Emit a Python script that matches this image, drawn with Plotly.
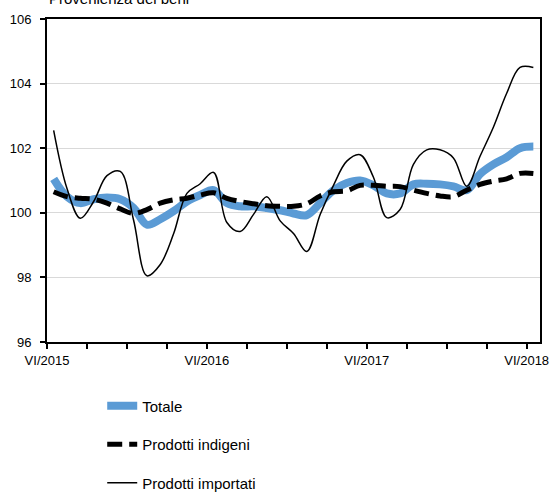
import plotly.graph_objects as go

# Monthly data, VI/2015 .. VI/2018 (37 months)
months = list(range(37))
totale = [101.05, 100.5, 100.3, 100.42, 100.47, 100.42, 100.15, 99.63, 99.8, 100.05,
          100.35, 100.55, 100.7, 100.3, 100.2, 100.2, 100.15, 100.08, 99.98, 99.93,
          100.3, 100.7, 100.92, 101.0, 100.85, 100.6, 100.6, 100.88, 100.9, 100.88,
          100.82, 100.7, 101.2, 101.5, 101.72, 102.0, 102.05]
indigeni = [100.65, 100.5, 100.45, 100.42, 100.3, 100.12, 99.98, 100.1, 100.3, 100.4,
            100.45, 100.55, 100.62, 100.45, 100.35, 100.28, 100.22, 100.2, 100.2, 100.28,
            100.52, 100.65, 100.68, 100.85, 100.85, 100.82, 100.81, 100.7, 100.6, 100.52,
            100.5, 100.7, 100.88, 100.98, 101.05, 101.22, 101.22]
importati = [102.55, 100.75, 99.83, 100.35, 101.15, 101.28, 99.77, 98.05, 98.4, 99.35,
             100.6, 100.9, 101.25, 99.7, 99.42, 99.95, 100.5, 99.75, 99.36, 98.8,
             99.95, 100.85, 101.6, 101.8, 101.1, 99.85, 100.1, 101.5, 101.95, 101.95,
             101.7, 100.82, 101.75, 102.65, 103.7, 104.5, 104.5]

series_names = ["Totale", "Prodotti indigeni", "Prodotti importati"]
year_labels = ["VI/2015", "VI/2016", "VI/2017", "VI/2018"]
y_ticks = [96, 98, 100, 102, 104, 106]
title_text = "Provenienza dei beni"

FONT = "Liberation Sans, Arial, sans-serif"

# tick marks between categories, every 3 months
tickvals = [-0.5 + 3 * k for k in range(13)]
ticktext = []
for k in range(13):
    ticktext.append(year_labels[k // 4] if k % 4 == 0 else "")

fig = go.Figure()
fig.add_trace(go.Scatter(
    x=months, y=totale, name=series_names[0], mode="lines",
    line=dict(color="#5B9BD5", width=8, shape="spline"),
    legendgroup="a"))
fig.add_trace(go.Scatter(
    x=months, y=indigeni, name=series_names[1], mode="lines",
    line=dict(color="black", width=5, shape="spline", dash="15px,7px"),
    legendgroup="b"))
fig.add_trace(go.Scatter(
    x=months, y=importati, name=series_names[2], mode="lines",
    line=dict(color="black", width=1.5, shape="spline"),
    legendgroup="c"))

fig.update_layout(
    width=560, height=493,
    margin=dict(l=47, r=20, t=19, b=151, autoexpand=False),
    paper_bgcolor="white", plot_bgcolor="white",
    font=dict(family=FONT, size=13, color="black"),
    showlegend=True,
    legend=dict(
        x=0.112, xanchor="left", y=-0.147, yanchor="top",
        orientation="v", tracegroupgap=16,
        font=dict(size=15, family=FONT, color="black"),
        bgcolor="rgba(0,0,0,0)"),
    xaxis=dict(
        range=[-0.5, 36.5], tickmode="array", tickvals=tickvals, ticktext=ticktext,
        ticks="outside", ticklen=5, tickcolor="black", tickwidth=1.5,
        showline=True, linecolor="black", linewidth=2, mirror=True,
        showgrid=False, zeroline=False, automargin=False,
        tickfont=dict(size=13, family=FONT)),
    yaxis=dict(
        range=[96, 106], tickmode="array", tickvals=y_ticks,
        ticks="outside", ticklen=5, tickcolor="black", tickwidth=1.5,
        showline=True, linecolor="black", linewidth=2, mirror=True,
        showgrid=True, gridcolor="#D9D9D9", gridwidth=1, zeroline=False,
        automargin=False, ticklabelstandoff=6,
        tickfont=dict(size=13, family=FONT)),
    annotations=[dict(
        text=title_text, xref="paper", yref="paper", x=0, y=1 + 10 / 323,
        xanchor="left", yanchor="bottom", showarrow=False,
        font=dict(size=15, family=FONT, color="black"))],
)

fig.write_html(
    "out.html",
    config={"displayModeBar": False},
    post_script="document.body.style.margin='0';document.body.style.padding='0';"
                "document.body.style.overflow='hidden';",
)
